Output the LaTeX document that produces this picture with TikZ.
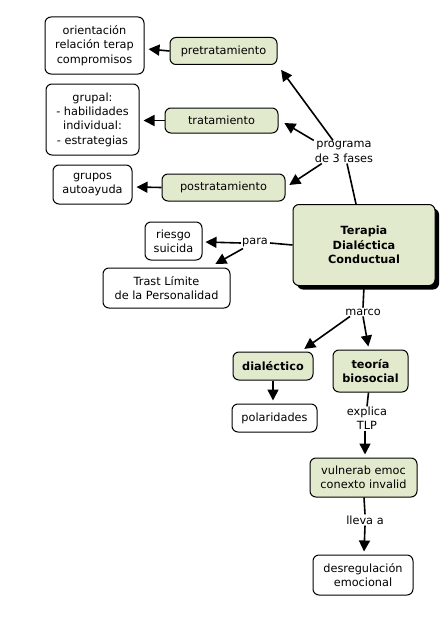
\documentclass[tikz,border=0pt]{standalone}
\usepackage{fontspec}
\setmainfont{DejaVu Sans}
\usetikzlibrary{arrows.meta,shadows,calc}
\definecolor{cgreen}{HTML}{E2EACD}
\begin{document}
\begin{tikzpicture}[x=1pt,y=-1pt,
  font=\fontsize{11.3}{14.3}\selectfont,
  base/.style={draw=black,line width=1pt,rounded corners=6pt,align=center,inner sep=0pt},
  wbox/.style={base,fill=white},
  gbox/.style={base,fill=cgreen},
  lbl/.style={inner sep=1pt,align=center},
  conn/.style={line width=1.6pt},
  arr/.style={line width=1.6pt,-{Triangle[length=11pt,width=11pt]},shorten >=1pt}]
\useasboundingbox (0,0) rectangle (444,618);
% nodes
\node[wbox,minimum width=99pt,minimum height=57pt] (ori) at (94.5,45.5) {orientación\\relación terap\\compromisos};
\node[gbox,minimum width=107pt,minimum height=27pt] (pre) at (223.5,51) {pretratamiento};
\node[wbox,minimum width=93pt,minimum height=71pt] (grp) at (92.5,119.5) {grupal:\\- habilidades\\individual:\\- estrategias};
\node[gbox,minimum width=113pt,minimum height=25pt] (tra) at (221.5,120.5) {tratamiento};
\node[wbox,minimum width=79pt,minimum height=39pt] (gau) at (92.5,184.5) {grupos\\autoayuda};
\node[gbox,minimum width=123pt,minimum height=27pt] (pos) at (223.5,187.5) {postratamiento};
\node[gbox,minimum width=142pt,minimum height=81pt,font=\fontsize{11.3}{14.3}\selectfont\bfseries,
  drop shadow={fill=black,opacity=1,shadow xshift=4pt,shadow yshift=-4pt}] (tdc) at (364,245) {Terapia\\Dialéctica\\Conductual};
\node[wbox,minimum width=57pt,minimum height=38pt] (rie) at (173.5,241) {riesgo\\suicida};
\node[wbox,minimum width=127pt,minimum height=40pt] (tlp) at (166.5,288) {Trast Límite\\de la Personalidad};
\node[gbox,minimum width=80pt,minimum height=28pt,font=\fontsize{11.3}{14.3}\selectfont\bfseries] (dia) at (273,366) {dialéctico};
\node[gbox,minimum width=75pt,minimum height=42pt,font=\fontsize{11.3}{14.3}\selectfont\bfseries] (teo) at (370.5,371) {teoría\\biosocial};
\node[wbox,minimum width=85pt,minimum height=28pt] (pol) at (274.5,418) {polaridades};
\node[gbox,minimum width=107pt,minimum height=39pt] (vul) at (363.5,477.5) {vulnerab emoc\\conexto invalid};
\node[wbox,minimum width=100pt,minimum height=40pt] (des) at (363,575) {desregulación\\emocional};
% labels
\node[lbl] (prog) at (344,152) {programa\\de 3 fases};
\node[lbl] (para) at (255,243) {para};
\node[lbl] (marco) at (363,312) {marco};
\node[lbl] (expl) at (367,418) {explica\\TLP};
\node[lbl] (lleva) at (365,520) {lleva a};
% connectors
\draw[conn] ($(tdc.north)+(-8,0)$) -- ($(prog.south)+(3,0)$);
\draw[arr] ($(prog.north)+(-11,0)$) -- ($(pre.south east)+(3,4)$);
\draw[arr] (prog.north west) -- ($(tra.east)+(5,2)$);
\draw[arr] ($(prog.south west)+(8,0)$) -- ($(pos.east)+(3,-2)$);
\draw[arr] (pre.west) -- ($(ori.east)+(3,3.5)$);
\draw[arr] (tra.west) -- ($(grp.east)+(3,1)$);
\draw[arr] (pos.west) -- ($(gau.east)+(3,2.5)$);
\draw[conn] (tdc.west) -- ($(para.east)+(1,0)$);
\draw[arr] (para.west) -- ($(rie.east)+(2,1)$);
\draw[arr] ($(para.south west)+(2,0)$) -- ($(tlp.north)+(48,-3)$);
\draw[conn] (tdc.south) -- (marco.north);
\draw[arr] ($(marco.south)+(-13,0)$) -- ($(dia.north east)+(-10,-2)$);
\draw[arr] (marco.south) -- ($(teo.north)+(-2,-2)$);
\draw[arr] (dia.south) -- ($(pol.north)+(-1.5,-2)$);
\draw[conn] ($(teo.south)+(-2,0)$) -- ($(expl.north)+(0,1)$);
\draw[arr] ($(expl.south)+(-2,0)$) -- ($(vul.north)+(1.5,-2)$);
\draw[conn] ($(vul.south)+(0.5,0)$) -- (lleva.north);
\draw[arr] (lleva.south) -- ($(des.north)+(1,-2)$);
\end{tikzpicture}
\end{document}
